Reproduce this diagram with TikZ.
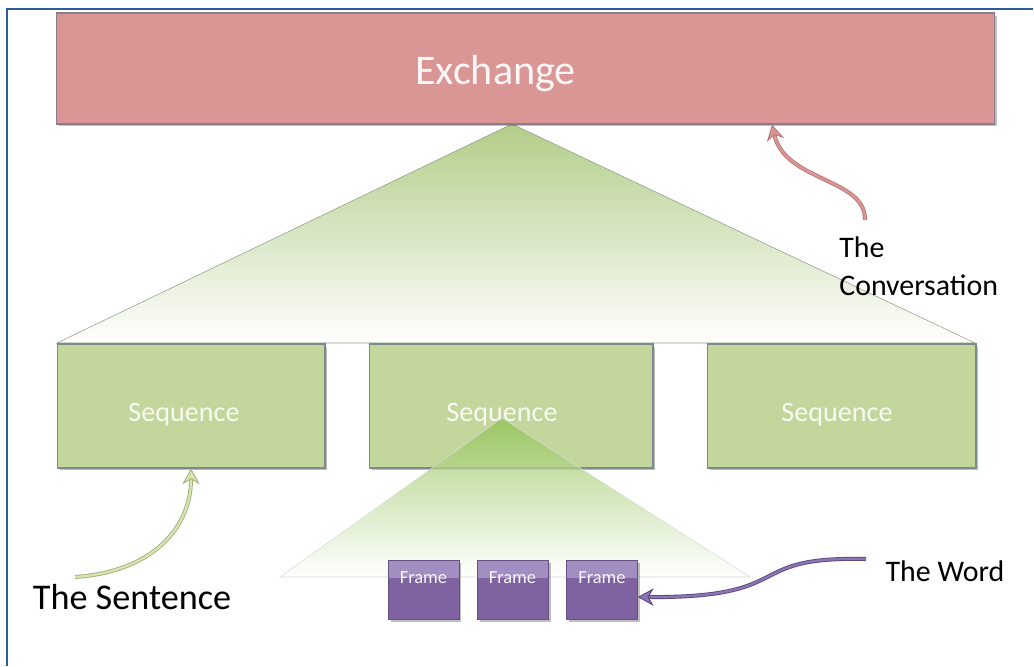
\documentclass[tikz,border=0pt]{standalone}
\usepackage{fontspec}
\setmainfont{Carlito}
\usepackage{xcolor}
\usetikzlibrary{arrows.meta,shadows}
\definecolor{pagerule}{HTML}{2E5C96}
\definecolor{exchpink}{HTML}{D99694}
\definecolor{exchedge}{HTML}{8A7D8C}
\definecolor{seqgreen}{HTML}{C3D69B}
\definecolor{seqedge}{HTML}{7B8A8C}
\definecolor{trigreen}{HTML}{B2CD89}
\definecolor{triedge}{HTML}{8E9C86}
\definecolor{tipgreen}{HTML}{8FC152}
\definecolor{frmpurple}{HTML}{7F63A1}
\definecolor{frmlight}{HTML}{A28EC0}
\definecolor{convdark}{HTML}{B87677}
\definecolor{convlight}{HTML}{D99694}
\definecolor{sentdark}{HTML}{A3B27A}
\definecolor{sentlight}{HTML}{D6E3B3}
\definecolor{worddark}{HTML}{5B4682}
\definecolor{wordlight}{HTML}{8C76B2}

\tikzset{
  boxshadow/.style={drop shadow={shadow xshift=0.05cm,shadow yshift=-0.05cm,opacity=0.25,fill=black}},
  exchbox/.style={draw=exchedge,fill=exchpink,line width=0.6pt,boxshadow,
    minimum width=18.78cm,minimum height=2.22cm,
    text=white!92!exchpink,font=\fontsize{24}{28}\selectfont},
  seqbox/.style={draw=seqedge,fill=seqgreen,line width=0.6pt,boxshadow,
    minimum height=2.48cm,text=white!90!seqgreen,font=\fontsize{16}{19}\selectfont},
  frmbox/.style={draw=frmpurple!80!black,fill=frmpurple,line width=0.4pt,boxshadow,
    minimum width=1.42cm,minimum height=1.18cm,text=white!95!frmpurple,
    font=\fontsize{10.5}{12}\selectfont,
    path picture={\fill[frmlight] (path picture bounding box.north west)
      rectangle ([yshift=0.23cm]path picture bounding box.east);}},
  callout/.style={text=black,inner sep=0pt},
  convarrow/.style={draw=convdark,double=convlight,double distance=1.3pt,line width=0.5pt,
    -{Stealth[length=9pt,width=10pt,fill=convlight]}},
  sentarrow/.style={draw=sentdark,double=sentlight,double distance=1.3pt,line width=0.5pt,
    -{Stealth[length=9pt,width=10pt,fill=sentlight]}},
  wordarrow/.style={draw=worddark,double=wordlight,double distance=1.3pt,line width=0.5pt,
    -{Stealth[length=9pt,width=10pt,fill=wordlight]}}
}

\begin{document}
\begin{tikzpicture}[x=0.02cm,y=-0.02cm]
  \useasboundingbox (0,0) rectangle (1034,666);
  \draw[pagerule,line width=1.1pt] (7,666) -- (7,9) -- (1033,9);

  \shade[top color=trigreen,middle color=trigreen!45!white,bottom color=white,
    draw=triedge,line width=0.3pt]
    (512,124) -- (57,343) -- (975,343) -- cycle;

  \node[exchbox] (exch) at (525.5,68.5) {\hspace{-1.2cm}\raisebox{-0.33cm}[0pt][0pt]{Exchange}};

  \node[seqbox,minimum width=5.36cm] (seqA) at (191,406) {\hspace{-0.28cm}\raisebox{-0.3cm}[0pt][0pt]{Sequence}};
  \node[seqbox,minimum width=5.68cm] (seqB) at (511,406) {\hspace{-0.36cm}\raisebox{-0.3cm}[0pt][0pt]{Sequence}};
  \node[seqbox,minimum width=5.38cm] (seqC) at (841.5,406) {\hspace{-0.18cm}\raisebox{-0.3cm}[0pt][0pt]{Sequence}};

  \shade[top color=tipgreen,bottom color=white,fill opacity=0.75,
    draw=triedge!35,line width=0.3pt]
    (502,418) -- (280,577) -- (750,577) -- cycle;

  \node[frmbox] (frmA) at (423.5,589.5) {\raisebox{0.12cm}[0pt][0pt]{Frame}};
  \node[frmbox] (frmB) at (512.5,589.5) {\raisebox{0.12cm}[0pt][0pt]{Frame}};
  \node[frmbox] (frmC) at (602,589.5) {\raisebox{0.12cm}[0pt][0pt]{Frame}};

  \node[callout,anchor=north west,align=left,font=\fontsize{17}{21.6}\selectfont]
    (conv) at (839,236) {The\\Conversation};
  \node[callout,font=\fontsize{20.6}{24}\selectfont] (sent) at (132,597) {The Sentence};
  \node[callout,font=\fontsize{17}{20}\selectfont] (word) at (945,571) {The Word};

  \coordinate (convtail) at (865,220);
  \coordinate (senttail) at (75,577);
  \coordinate (wordtail) at (866,559);

  \draw[convarrow] (convtail) .. controls (866,178) and (785,182) .. (exch.south -| 772,0);
  \draw[sentarrow] (senttail) .. controls (150,572) and (191,530) .. (seqA.south);
  \draw[wordarrow] (wordtail) .. controls (740,556) and (800,598) .. ([yshift=-0.15cm]frmC.east);
\end{tikzpicture}
\end{document}
